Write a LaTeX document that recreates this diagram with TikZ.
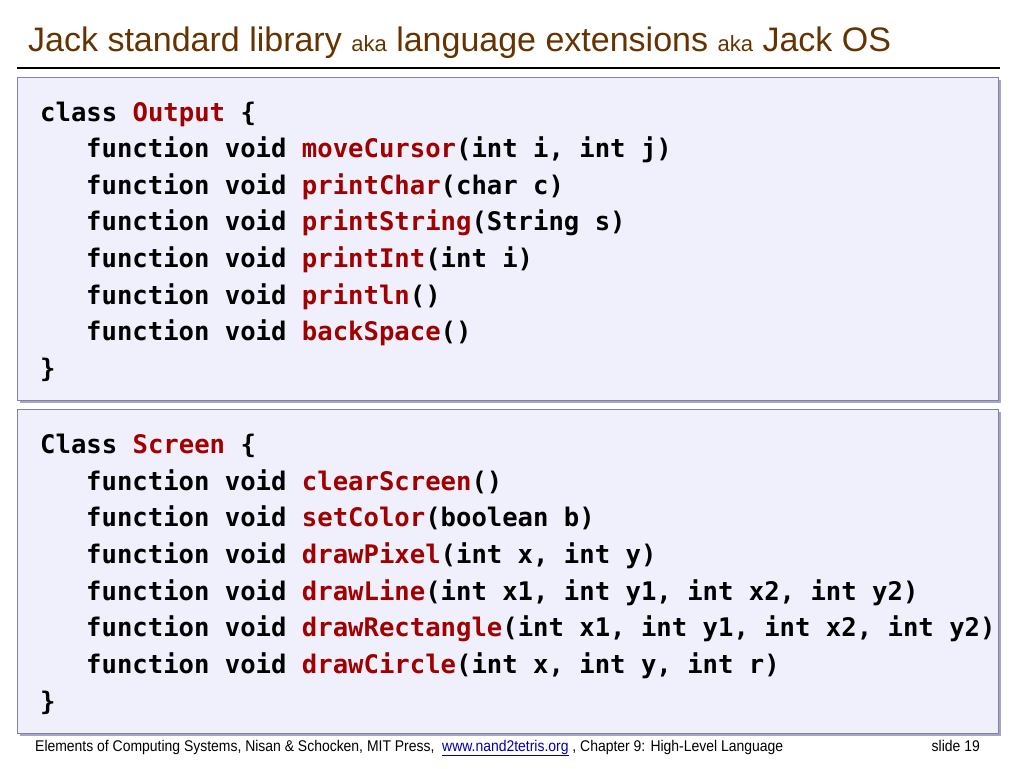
\documentclass[tikz,border=0pt]{standalone}
\usepackage{fontspec}
\setmainfont{Liberation Sans}
\setmonofont{DejaVu Sans Mono}
\usepackage{xcolor}
\usetikzlibrary{shadows}
\definecolor{titlebrown}{HTML}{663300}
\definecolor{fnred}{HTML}{A00000}
\definecolor{boxfill}{HTML}{F0F0FC}
\definecolor{boxline}{HTML}{8080A8}
\tikzset{
  codebox/.style={fill=boxfill, draw=boxline, line width=1pt, drop shadow={shadow xshift=3pt, shadow yshift=-3pt, fill=black!30!blue!40!gray}},
  code/.style={anchor=base west, inner sep=0pt, font=\fontsize{25.6}{25.6}\selectfont\ttfamily\bfseries},
}
\newcommand{\fn}[1]{\textcolor{fnred}{#1}}
\begin{document}
\begin{tikzpicture}[x=1pt, y=-1pt]
  \useasboundingbox (0,0) rectangle (1024,768);
  % title
  \node[anchor=base west, inner sep=0pt, text=titlebrown, font=\fontsize{34}{34}\selectfont] (title) at (28,52)
    {Jack standard library {\fontsize{22}{22}\selectfont aka} language extensions {\fontsize{22}{22}\selectfont aka} Jack OS};
  \draw[line width=2.5pt] (17,68) -- (1000,68);
  % boxes
  \path[codebox] (17,77) rectangle (998,400);
  \path[codebox] (17,409) rectangle (998,733);
  % class Output
  \node[code] (o0) at (40,121) {class \fn{Output} \{};
  \node[code] (o1) at (86,157) {function void \fn{moveCursor}(int i, int j)};
  \node[code] (o2) at (86,194) {function void \fn{printChar}(char c)};
  \node[code] (o3) at (86,230) {function void \fn{printString}(String s)};
  \node[code] (o4) at (86,267) {function void \fn{printInt}(int i)};
  \node[code] (o5) at (86,304) {function void \fn{println}()};
  \node[code] (o6) at (86,340) {function void \fn{backSpace}()};
  \node[code] (o7) at (40,377) {\}};
  % class Screen
  \node[code] (s0) at (40,453) {Class \fn{Screen} \{};
  \node[code] (s1) at (86,490) {function void \fn{clearScreen}()};
  \node[code] (s2) at (86,526) {function void \fn{setColor}(boolean b)};
  \node[code] (s3) at (86,563) {function void \fn{drawPixel}(int x, int y)};
  \node[code] (s4) at (86,600) {function void \fn{drawLine}(int x1, int y1, int x2, int y2)};
  \node[code] (s5) at (86,636) {function void \fn{drawRectangle}(int x1, int y1, int x2, int y2)};
  \node[code] (s6) at (86,673) {function void \fn{drawCircle}(int x, int y, int r)};
  \node[code] (s7) at (40,710) {\}};
  % footer
  \node[anchor=base west, inner sep=0pt, font=\fontsize{15.5}{15.5}\selectfont] (foot) at (35,751)
    {\scalebox{0.9}[1]{Elements of Computing Systems, Nisan \& Schocken, MIT Press,\ \ \textcolor{blue!70!black}{\underline{www.nand2tetris.org}} , Chapter 9: High-Level Language}};
  \node[anchor=base east, inner sep=0pt, font=\fontsize{15.5}{15.5}\selectfont] (slide) at (980,751) {\scalebox{0.9}[1]{slide 19}};
\end{tikzpicture}
\end{document}
